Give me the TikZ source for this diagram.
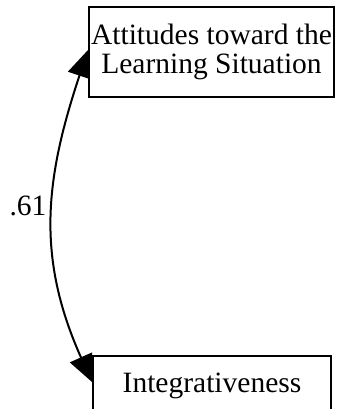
\documentclass[tikz,border=0pt]{standalone}
\usepackage{fontspec}
\setmainfont{Liberation Serif}
\usepackage{tikz}
\usetikzlibrary{positioning,arrows.meta,backgrounds}
\tikzset{
  obs/.style ={draw=black, fill=white, line width=2pt, inner sep=2pt, align=center, font=\fontsize{29.5}{29.5}\selectfont},
  cov/.style ={{Triangle[length=27pt,width=24pt]}-{Triangle[length=27pt,width=24pt]}, line width=2pt},
  coef/.style={inner sep=0pt, font=\fontsize{29.5}{29.5}\selectfont},
}
\begin{document}
\begin{tikzpicture}[x=1pt,y=-1pt]
        \useasboundingbox (0,0) rectangle (345,409);
        \clip (0,0) rectangle (345,409);
        \node[obs, minimum width=245pt, minimum height=90pt] (ATT) at (211.5,52) {Attitudes toward the\\Learning Situation};
        \node[obs, minimum width=238pt, minimum height=60pt] (INT) at (212,386) {Integrativeness};
        \node[coef] (R) at (28,206) {.61};
        \begin{scope}[on background layer]
          \draw[cov] ([yshift=2pt]ATT.west) .. controls (45,179) and (36,257) .. ([yshift=4pt]INT.west);
        \end{scope}
      \end{tikzpicture}
\end{document}
